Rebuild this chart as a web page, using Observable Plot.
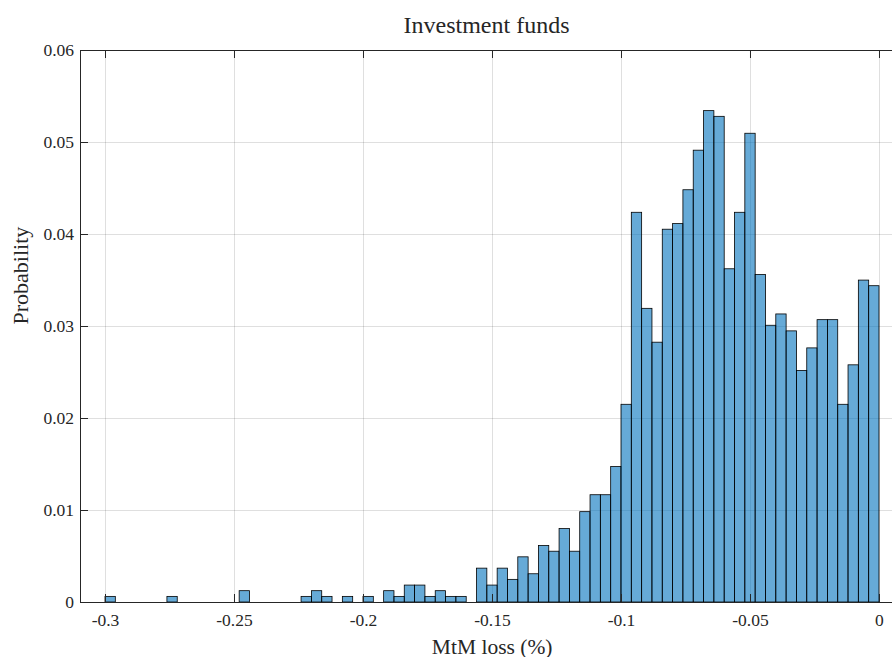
<!DOCTYPE html>
<html><head><meta charset="utf-8">
<script src="https://cdn.jsdelivr.net/npm/d3@7"></script>
<script src="https://cdn.jsdelivr.net/npm/@observablehq/plot@0.6"></script>
<style>html,body{margin:0;padding:0;background:#fff;} #chart svg{display:block}</style>
</head><body><div id="chart"></div>
<script>
const title = "Investment funds";
const xLabel = "MtM loss (%)";
const yLabel = "Probability";
const firstEdge = -0.3;
const binWidth = 0.004;
const probability = [
  0.00061, 0, 0, 0, 0, 0, 0.00061, 0, 0, 0,
  0, 0, 0, 0.00123, 0, 0, 0, 0, 0, 0.00061,
  0.00123, 0.00061, 0, 0.00061, 0, 0.00061, 0, 0.00123, 0.00061, 0.00184,
  0.00184, 0.00061, 0.00123, 0.00061, 0.00061, 0, 0.00368, 0.00184, 0.00368, 0.00246,
  0.00491, 0.00307, 0.00614, 0.00552, 0.00798, 0.00552, 0.00982, 0.01166, 0.01166, 0.01473,
  0.02149, 0.04236, 0.03192, 0.02824, 0.04052, 0.04113, 0.04481, 0.04911, 0.05341, 0.05279,
  0.03622, 0.04236, 0.05095, 0.03560, 0.03008, 0.03131, 0.02947, 0.02517, 0.02762, 0.03069,
  0.03069, 0.02149, 0.02578, 0.03499, 0.03438
];
const xTicks = [-0.3, -0.25, -0.2, -0.15, -0.1, -0.05, 0];
const xTickLabels = ["-0.3", "-0.25", "-0.2", "-0.15", "-0.1", "-0.05", "0"];
const yTicks = [0, 0.01, 0.02, 0.03, 0.04, 0.05, 0.06];
const yTickLabels = ["0", "0.01", "0.02", "0.03", "0.04", "0.05", "0.06"];
const xDomain = [-0.30969, 0.00504];
const yDomain = [0, 0.06];

const W = 892, H = 657, mL = 80, mR = 0, mT = 50, mB = 55;
const frameW = W - mL - mR, frameH = H - mT - mB;
const tickLen = 8;
const ink = "#262626";

const bins = probability
  .map((p, i) => ({x1: firstEdge + i * binWidth, x2: firstEdge + (i + 1) * binWidth, p}))
  .filter(d => d.p > 0);

const chart = Plot.plot({
  width: W, height: H,
  marginLeft: mL, marginRight: mR, marginTop: mT, marginBottom: mB,
  style: {fontFamily: "'Liberation Serif', serif", color: ink, background: "white", overflow: "visible"},
  x: {domain: xDomain},
  y: {domain: yDomain},
  marks: [
    Plot.gridX(xTicks, {stroke: ink, strokeOpacity: 0.15, strokeWidth: 1}),
    Plot.gridY(yTicks, {stroke: ink, strokeOpacity: 0.15, strokeWidth: 1}),
    Plot.rectY(bins, {x1: "x1", x2: "x2", y: "p", fill: "#0072BD", fillOpacity: 0.6, stroke: "black", strokeWidth: 0.8}),
    Plot.ruleY(yDomain, {stroke: ink, strokeWidth: 1}),
    Plot.ruleX([xDomain[0]], {stroke: ink, strokeWidth: 1}),
    Plot.tickX(xTicks, {x: d => d, insetTop: frameH - tickLen, stroke: ink}),
    Plot.tickX(xTicks, {x: d => d, insetBottom: frameH - tickLen, stroke: ink}),
    Plot.tickY(yTicks, {y: d => d, insetRight: frameW - tickLen, stroke: ink}),
    Plot.axisX(xTicks, {tickSize: 0, tickPadding: 11, fontSize: 17.5, label: null,
      tickFormat: d => xTickLabels[xTicks.indexOf(d)]}),
    Plot.axisY(yTicks, {tickSize: 0, tickPadding: 6.5, fontSize: 17.5, label: null,
      tickFormat: d => yTickLabels[yTicks.indexOf(d)]}),
    Plot.text([title], {text: d => d, frameAnchor: "top", lineAnchor: "bottom", dy: -18, fontSize: 24, fill: ink}),
    Plot.text([xLabel], {text: d => d, frameAnchor: "bottom", lineAnchor: "bottom", dx: 5.7, dy: 51, fontSize: 21.5, fill: ink}),
    Plot.text([yLabel], {text: d => d, frameAnchor: "left", rotate: -90, dx: -59.3, dy: -2, fontSize: 22, fill: ink})
  ]
});
document.getElementById("chart").appendChild(chart);
</script>
</body></html>
